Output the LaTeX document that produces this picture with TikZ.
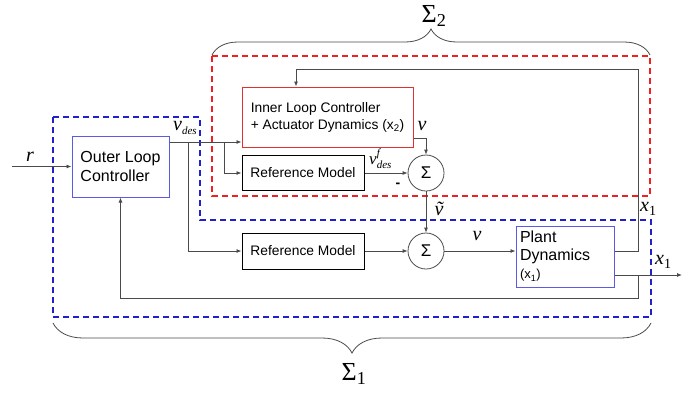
\documentclass[tikz,border=0pt]{standalone}
\usepackage{fontspec}
\setmainfont{Liberation Sans}
\newfontfamily\tms{Liberation Serif}
\usetikzlibrary{arrows.meta,decorations.pathreplacing,calc}

\definecolor{wire}{HTML}{4A4A4A}
\definecolor{boxblue}{HTML}{5A5AE6}
\definecolor{dashblue}{HTML}{2020CC}
\definecolor{boxred}{HTML}{E03030}
\definecolor{dashred}{HTML}{EE2020}

% italic serif symbols
\newcommand{\mv}[1]{{\tms\itshape\fontsize{20}{20}\selectfont #1}}
\newcommand{\msub}[1]{{\tms\itshape\fontsize{11}{11}\selectfont #1}}
\newcommand{\mone}{\raisebox{-4pt}{{\tms\fontsize{14}{14}\selectfont 1}}}

\tikzset{
  wireline/.style={draw=wire, line width=0.8pt},
  arr/.style={wireline, -{Latex[length=5pt,width=4pt]}},
  blockbox/.style={draw=#1, line width=1pt, rectangle, inner sep=0pt, align=left},
  sumnode/.style={draw=wire, line width=0.8pt, circle, minimum size=36pt, inner sep=0pt,
                  font=\fontsize{17}{17}\selectfont},
  region/.style={draw=#1, line width=1.5pt, dash pattern=on 6pt off 4pt},
  bracecurve/.style={draw=wire, line width=0.8pt, decorate},
  lbl/.style={inner sep=0pt}
}

\begin{document}
\begin{tikzpicture}[x=1pt,y=-1pt]
\useasboundingbox (0,0) rectangle (700,394);

% blocks
\node[blockbox=boxblue, minimum width=97pt, minimum height=61pt,
      font=\fontsize{16}{18.5}\selectfont] (olc) at (120.5,166.5) {Outer Loop\\Controller};
\node[blockbox=boxred, minimum width=171pt, minimum height=60pt,
      font=\fontsize{13.8}{17}\selectfont] (inner) at (327.5,117)
      {Inner Loop Controller\\+ Actuator Dynamics (x\textsubscript{2})};
\node[blockbox=black, minimum width=122pt, minimum height=35pt,
      font=\fontsize{13.8}{16}\selectfont] (ref1) at (303,173) {Reference Model};
\node[blockbox=black, minimum width=122pt, minimum height=36pt,
      font=\fontsize{13.8}{16}\selectfont] (ref2) at (303,251) {Reference Model};
\node[sumnode] (sum1) at (426,173) {Σ};
\node[sumnode] (sum2) at (426,251) {Σ};
\node[blockbox=boxblue, minimum width=98pt, minimum height=61pt, text width=90pt,
      font=\fontsize{16}{18}\selectfont] (plant) at (565,256.5)
      {Plant\\Dynamics\\{\fontsize{13}{13}\selectfont(x\textsubscript{1})}};

% dashed subsystem regions
\draw[region=dashred] (212,56) rectangle (650,196);
\draw[region=dashblue] (53,117) -- (200,117) -- (200,220) -- (651,220)
      -- (651,317) -- (53,317) -- cycle;

% braces and subsystem names
\draw[bracecurve, decoration={brace, amplitude=26pt}] (212,55) -- (650,55);
\draw[bracecurve, decoration={brace, amplitude=30pt}] (651,323) -- (53,323);
\node[lbl, font=\tms\fontsize{26}{26}\selectfont] (s2) at (434,16) {Σ\textsubscript{2}};
\node[lbl, font=\tms\fontsize{26}{26}\selectfont] (s1) at (354,374) {Σ\textsubscript{1}};

% taps and free ends
\coordinate (rin) at (12,166.5);
\coordinate (ta) at (188,142);
\coordinate (tb) at (224,142);
\coordinate (tx) at (638,275);
\coordinate (xout) at (682,275);
\coordinate (top) at (638,69);

% reference input
\draw[arr] (rin) -- (olc.west);
% desired velocity to inner loop and reference models
\draw[arr] (olc.east |- ta) -- (inner.west |- ta);
\draw[arr] (tb) |- (ref1.west);
\draw[arr] (ta) |- (ref2.west);
% inner summing junction
\draw[arr] (inner.east |- 0,138) -| (sum1.north);
\draw[arr] (ref1.east) -- (sum1.west);
\draw[arr] (sum1.south) -- (sum2.north);
% outer summing junction and plant
\draw[arr] (ref2.east) -- (sum2.west);
\draw[arr] (sum2.east) -- (sum2.east -| plant.west);
% plant state feedback to the inner loop
\draw[arr] (plant.east |- sum2.east) -| (top) -| ([xshift=-31.5pt]inner.north);
% plant output and outer feedback
\draw[arr] (plant.east |- tx) -- (xout);
\draw[arr] (tx) |- (olc.south |- 0,298) -- (olc.south);

% signal labels
\node[lbl] (lr) at (30,157) {\mv{r}};
\node[lbl, anchor=west] (lvdes) at (173,128) {\mv{v}\raisebox{-4pt}{\msub{des}}};
\node[lbl] (lv1) at (422,126) {\mv{v}};
\node[lbl, anchor=west] (lvf) at (369,159)
  {{\tms\itshape\fontsize{17}{17}\selectfont v}\raisebox{8pt}{\rlap{\msub{f}}}\raisebox{-4pt}{\msub{des}}};
\node[lbl, font=\fontsize{14}{14}\selectfont\bfseries] (lminus) at (398,185) {-};
\node[lbl] (lvt) at (439,209) {\mv{\~{v}}};
\node[lbl] (lv2) at (477,236) {\mv{v}};
\node[lbl, anchor=west] (lx1a) at (640,209) {\mv{x}\mone};
\node[lbl, anchor=west] (lx1b) at (655,262) {\mv{x}\mone};
\end{tikzpicture}
\end{document}
